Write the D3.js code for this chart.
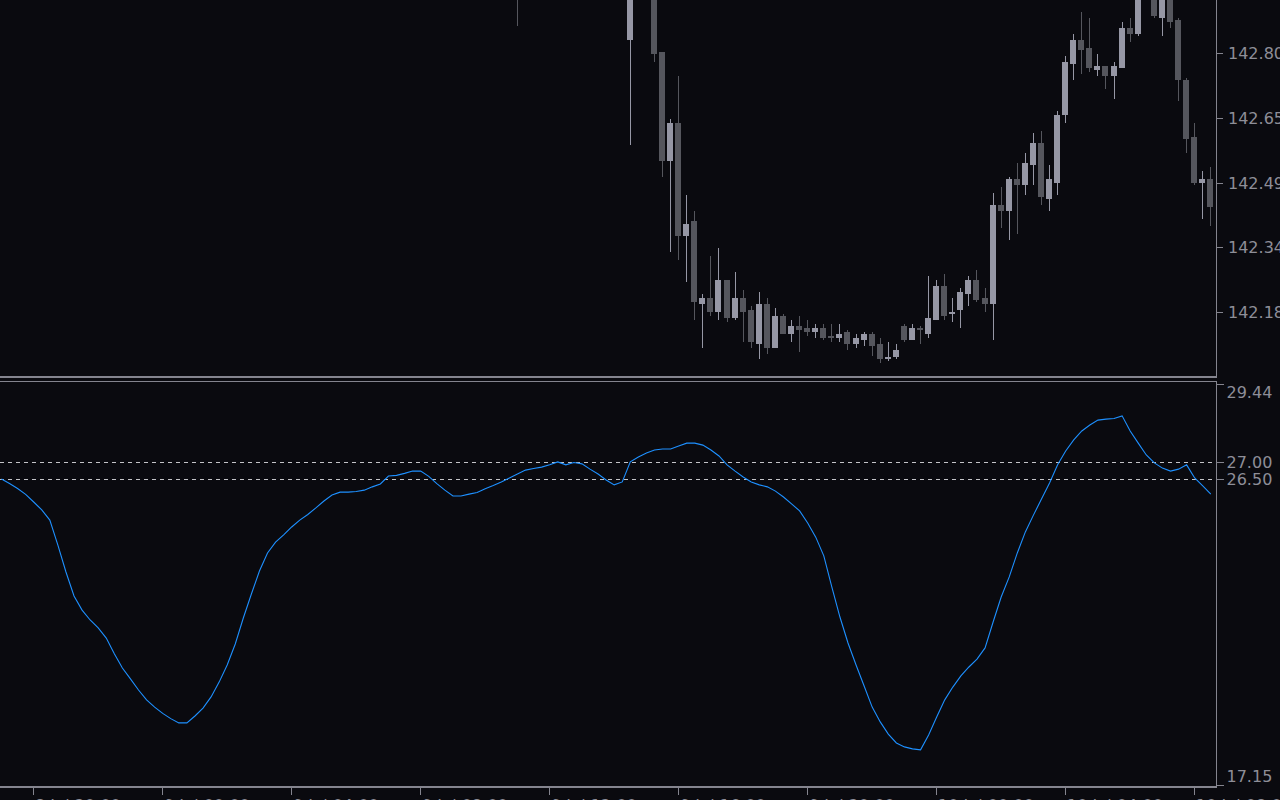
<!DOCTYPE html>
<html>
<head>
<meta charset="utf-8">
<script src="https://cdn.jsdelivr.net/npm/d3@7/dist/d3.min.js"></script>
<style>
  html, body { margin: 0; padding: 0; background: #0a0a0f; overflow: hidden; }
  svg { display: block; }
</style>
</head>
<body>
<svg id="chart" width="1280" height="800"></svg>
<script>
// ---------------- DATA ----------------
// bar index (0 = leftmost bar on screen) of each candle that is visible
const candleBars = [64,78,81,82,83,84,85,86,87,88,89,90,91,92,93,94,95,96,97,98,99,100,
  101,102,103,104,105,106,107,108,109,110,111,112,113,114,115,116,117,118,119,120,
  121,122,123,124,125,126,127,128,129,130,131,132,133,134,135,136,137,138,139,140,141,
  143,144,145,146,147,148,149,150];
const opens = [142.975,142.835,142.960,142.806,142.545,142.636,142.365,142.401,142.203,142.217,142.183,142.260,142.169,142.217,142.188,142.107,142.203,142.097,142.174,142.131,142.150,142.145,
  142.135,142.145,142.126,142.121,142.135,142.107,142.116,142.131,142.107,142.071,142.076,142.150,142.116,142.145,142.131,142.164,142.246,142.179,142.188,142.227,
  142.260,142.217,142.203,142.440,142.425,142.502,142.488,142.535,142.588,142.454,142.492,142.655,142.777,142.835,142.816,142.763,142.773,142.749,142.768,142.864,142.849,
  142.960,142.888,142.955,142.883,142.739,142.603,142.492,142.502];
const highs = [142.985,142.990,142.970,142.806,142.646,142.749,142.464,142.425,142.227,142.318,142.337,142.260,142.279,142.236,142.198,142.231,142.217,142.193,142.179,142.164,142.174,142.164,
  142.155,142.155,142.155,142.155,142.140,142.131,142.135,142.135,142.121,142.112,142.107,142.155,142.155,142.150,142.270,142.260,142.274,142.217,142.241,142.270,
  142.284,142.241,142.468,142.483,142.507,142.540,142.564,142.612,142.617,142.535,142.665,142.797,142.849,142.902,142.888,142.801,142.773,142.782,142.878,142.888,142.960,
  142.975,142.975,142.965,142.888,142.744,142.636,142.521,142.531];
const lows = [142.869,142.583,142.782,142.507,142.327,142.308,142.255,142.164,142.097,142.174,142.164,142.159,142.164,142.112,142.097,142.071,142.083,142.097,142.131,142.112,142.088,142.126,
  142.121,142.116,142.112,142.112,142.092,142.097,142.102,142.078,142.061,142.066,142.071,142.112,142.116,142.107,142.121,142.164,142.164,142.159,142.145,142.198,
  142.207,142.183,142.116,142.385,142.356,142.370,142.464,142.488,142.440,142.425,142.464,142.636,142.739,142.753,142.758,142.749,142.718,142.694,142.768,142.830,142.844,
  142.888,142.844,142.864,142.689,142.564,142.488,142.406,142.389];
const closes = [142.945,142.970,142.802,142.545,142.636,142.365,142.394,142.207,142.217,142.183,142.260,142.169,142.217,142.183,142.112,142.203,142.097,142.174,142.131,142.150,142.140,142.135,
  142.145,142.121,142.121,142.131,142.107,142.121,142.131,142.102,142.071,142.076,142.092,142.116,142.145,142.140,142.169,142.246,142.174,142.183,142.231,142.260,
  142.212,142.203,142.440,142.425,142.502,142.488,142.540,142.588,142.459,142.502,142.655,142.782,142.835,142.811,142.768,142.773,142.749,142.773,142.864,142.849,142.945,
  142.892,142.950,142.878,142.739,142.598,142.492,142.502,142.435];

// oscillator value for every bar 0..150
const oscValues = [
  26.49,26.35,26.20,26.02,25.79,25.55,25.24,24.48,23.66,22.93,
  22.50,22.20,21.96,21.65,21.17,20.74,20.41,20.07,19.77,19.55,
  19.36,19.20,19.07,19.07,19.28,19.52,19.86,20.31,20.83,21.47,
  22.26,22.99,23.69,24.24,24.57,24.79,25.03,25.24,25.41,25.61,
  25.82,26.00,26.09,26.09,26.11,26.15,26.25,26.34,26.58,26.60,
  26.66,26.73,26.73,26.57,26.35,26.15,25.97,25.97,26.03,26.08,
  26.19,26.29,26.40,26.52,26.64,26.76,26.81,26.85,26.92,27.01,
  26.92,26.99,26.95,26.79,26.64,26.46,26.31,26.40,27.01,27.16,
  27.28,27.37,27.40,27.40,27.49,27.58,27.58,27.52,27.37,27.19,
  26.92,26.73,26.55,26.40,26.31,26.25,26.12,25.94,25.73,25.52,
  25.15,24.72,24.15,23.20,22.29,21.50,20.83,20.19,19.55,19.10,
  18.73,18.46,18.34,18.28,18.25,18.70,19.25,19.77,20.16,20.50,
  20.77,21.01,21.35,22.14,22.90,23.51,24.24,24.88,25.39,25.88,
  26.37,26.92,27.34,27.68,27.95,28.13,28.28,28.31,28.33,28.41,
  27.95,27.58,27.22,26.98,26.82,26.73,26.79,26.92,26.52,26.28,
  26.03];
const oscLevels = [27.00, 26.50];
const oscRange = [17.15, 29.44];

const priceRange = [142.0301, 142.9307];
const priceTicks = [142.803, 142.648, 142.493, 142.338, 142.183];

const timeTickBars = [4, 20, 36, 52, 68, 84, 100, 116, 132, 148];
const timeLabels = ["8 Jul 20:00", "9 Jul 00:00", "9 Jul 04:00", "9 Jul 08:00", "9 Jul 12:00",
  "9 Jul 16:00", "9 Jul 20:00", "10 Jul 00:00", "10 Jul 04:00", "10 Jul 08:00"];

// ---------------- LAYOUT ----------------
const W = 1280, H = 800;
const axisX = 1216;
const mainTop = 0, mainBottom = 376;
const oscTop = 382, oscBottom = 786;
const BG = "#0a0a0f", LINE = "#84848e", TEXT = "#8e8e98";
const BULL = "#9697a5", BEAR = "#55565d";
const FONT = "DejaVu Sans, Verdana, sans-serif";

const svg = d3.select("#chart");
svg.append("rect").attr("width", W).attr("height", H).attr("fill", BG);

const x = d3.scaleLinear().domain([0, 150]).range([1.45, 1210.8]);
const yP = d3.scaleLinear().domain(priceRange).range([mainBottom, mainTop]);
const yO = d3.scaleLinear().domain(oscRange).range([oscBottom, oscTop]);

const defs = svg.append("defs");
defs.append("clipPath").attr("id", "clipMain").append("rect")
  .attr("x", 0).attr("y", 0).attr("width", axisX).attr("height", mainBottom);
defs.append("clipPath").attr("id", "clipOsc").append("rect")
  .attr("x", 0).attr("y", oscTop).attr("width", axisX).attr("height", oscBottom - oscTop);

// ---------------- CANDLES ----------------
const candles = candleBars.map((b, k) => ({ b, o: opens[k], h: highs[k], l: lows[k], c: closes[k] }));
const gC = svg.append("g").attr("clip-path", "url(#clipMain)").attr("shape-rendering", "crispEdges");
const cg = gC.selectAll("g.c").data(candles).join("g").attr("class", "c");
cg.append("rect")
  .attr("x", d => Math.floor(x(d.b)))
  .attr("width", 1)
  .attr("y", d => Math.round(yP(d.h)))
  .attr("height", d => Math.max(1, Math.round(yP(d.l)) - Math.round(yP(d.h))))
  .attr("fill", d => d.c >= d.o ? BULL : BEAR);
cg.append("rect")
  .attr("x", d => Math.floor(x(d.b)) - 3)
  .attr("width", 6)
  .attr("y", d => Math.round(yP(Math.max(d.o, d.c))))
  .attr("height", d => Math.max(1, Math.round(yP(Math.min(d.o, d.c))) - Math.round(yP(Math.max(d.o, d.c)))))
  .attr("fill", d => d.c >= d.o ? BULL : BEAR);

// ---------------- OSCILLATOR ----------------
const gO = svg.append("g").attr("clip-path", "url(#clipOsc)");
gO.selectAll("line.lvl").data(oscLevels).join("line")
  .attr("x1", 0).attr("x2", axisX)
  .attr("y1", d => Math.round(yO(d)) + 0.5).attr("y2", d => Math.round(yO(d)) + 0.5)
  .attr("stroke", "#c4c4c8").attr("stroke-width", 1).attr("stroke-dasharray", "4,4");
gO.append("path")
  .datum(oscValues)
  .attr("d", d3.line().x((v, i) => x(i)).y(v => yO(v)))
  .attr("fill", "none").attr("stroke", "#1e90ff").attr("stroke-width", 1.1);

// ---------------- FRAMES ----------------
const frame = svg.append("g").attr("shape-rendering", "crispEdges").attr("stroke", LINE);
frame.append("line").attr("x1", 0).attr("x2", axisX + 1).attr("y1", 377).attr("y2", 377).attr("stroke-width", 2);
frame.append("line").attr("x1", 0).attr("x2", axisX + 1).attr("y1", 381.5).attr("y2", 381.5).attr("stroke-width", 1);
frame.append("line").attr("x1", axisX + 0.5).attr("x2", axisX + 0.5).attr("y1", 0).attr("y2", 378);
frame.append("line").attr("x1", axisX + 0.5).attr("x2", axisX + 0.5).attr("y1", 381).attr("y2", 787);
frame.append("line").attr("x1", 0).attr("x2", axisX + 1).attr("y1", 786.5).attr("y2", 786.5).attr("stroke-width", 2);

// ---------------- PRICE AXIS ----------------
const gPA = svg.append("g");
gPA.selectAll("line").data(priceTicks).join("line")
  .attr("shape-rendering", "crispEdges")
  .attr("x1", axisX + 1).attr("x2", axisX + 7)
  .attr("y1", d => Math.round(yP(d)) + 0.5).attr("y2", d => Math.round(yP(d)) + 0.5)
  .attr("stroke", LINE);
gPA.selectAll("text").data(priceTicks).join("text")
  .attr("x", 1228).attr("y", d => yP(d) + 5.8)
  .attr("fill", TEXT).attr("font-family", FONT).attr("font-size", 16)
  .text(d => d.toFixed(2));

// ---------------- OSC AXIS ----------------
const oscTicks = [oscRange[1], ...oscLevels, oscRange[0]];
const gOA = svg.append("g");
const tickY = v => Math.min(785, Math.max(384, Math.round(yO(v))));
gOA.selectAll("line").data(oscTicks).join("line")
  .attr("shape-rendering", "crispEdges")
  .attr("x1", axisX + 1).attr("x2", axisX + 8)
  .attr("y1", d => tickY(d) + 0.5).attr("y2", d => tickY(d) + 0.5)
  .attr("stroke", LINE);
gOA.selectAll("text").data(oscTicks).join("text")
  .attr("x", 1226.5)
  .attr("y", d => {
    const ty = tickY(d);
    if (d === oscRange[1]) return ty + 14;
    if (d === oscRange[0]) return ty - 3;
    return ty + 6;
  })
  .attr("fill", TEXT).attr("font-family", FONT).attr("font-size", 16)
  .text(d => d.toFixed(2));

// ---------------- TIME AXIS ----------------
const gT = svg.append("g");
gT.selectAll("line").data(timeTickBars).join("line")
  .attr("shape-rendering", "crispEdges")
  .attr("x1", d => Math.floor(x(d)) + 0.5).attr("x2", d => Math.floor(x(d)) + 0.5)
  .attr("y1", 787).attr("y2", 795)
  .attr("stroke", LINE);
gT.selectAll("text").data(timeTickBars).join("text")
  .attr("x", d => Math.floor(x(d)) + 2).attr("y", 811)
  .attr("fill", TEXT).attr("font-family", FONT).attr("font-size", 16)
  .text((d, i) => timeLabels[i]);
</script>
</body>
</html>
